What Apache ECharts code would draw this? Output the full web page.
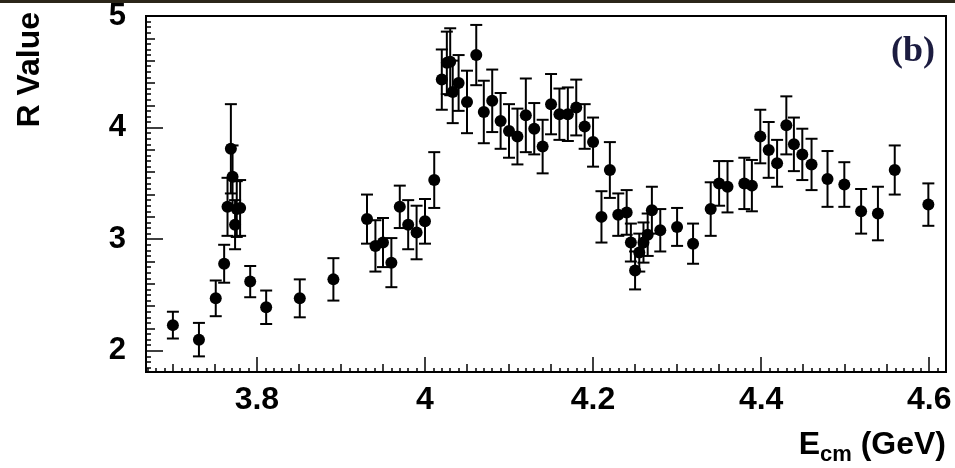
<!DOCTYPE html>
<html>
<head>
<meta charset="utf-8">
<script src="https://cdn.jsdelivr.net/npm/echarts@6/dist/echarts.min.js"></script>
<style>
  html, body { margin: 0; padding: 0; background: #fff; }
  #chart { width: 955px; height: 468px; }
</style>
</head>
<body>
<div id="chart"></div>
<script>
  // centre-of-mass energy (GeV)
  var energies = [
    3.700, 3.731, 3.751, 3.761, 3.765, 3.769, 3.771, 3.774, 3.776, 3.780,
    3.792, 3.811, 3.851, 3.891, 3.931, 3.941, 3.950, 3.960, 3.970, 3.980,
    3.990, 4.000, 4.011, 4.020, 4.026, 4.030, 4.033, 4.040, 4.050, 4.061,
    4.070, 4.080, 4.090, 4.100, 4.110, 4.120, 4.130, 4.140, 4.150, 4.160,
    4.170, 4.180, 4.190, 4.200, 4.210, 4.220, 4.230, 4.240, 4.245, 4.250,
    4.255, 4.260, 4.265, 4.270, 4.280, 4.300, 4.319, 4.340, 4.350, 4.360,
    4.380, 4.389, 4.399, 4.409, 4.419, 4.430, 4.439, 4.449, 4.460, 4.479,
    4.499, 4.519, 4.539, 4.559, 4.599
  ];
  // measured R value
  var rValues = [
    2.23, 2.10, 2.47, 2.78, 3.29, 3.81, 3.56, 3.13, 3.27, 3.28,
    2.62, 2.39, 2.47, 2.64, 3.18, 2.94, 2.97, 2.79, 3.29, 3.13,
    3.06, 3.16, 3.53, 4.43, 4.58, 4.59, 4.32, 4.40, 4.23, 4.65,
    4.14, 4.24, 4.06, 3.97, 3.92, 4.11, 3.99, 3.83, 4.21, 4.12,
    4.12, 4.18, 4.01, 3.87, 3.20, 3.62, 3.22, 3.24, 2.97, 2.72,
    2.88, 2.97, 3.04, 3.26, 3.08, 3.11, 2.96, 3.27, 3.50, 3.47,
    3.50, 3.48, 3.92, 3.80, 3.68, 4.02, 3.85, 3.76, 3.67, 3.54,
    3.49, 3.25, 3.23, 3.62, 3.31
  ];
  // symmetric error
  var rErrors = [
    0.12, 0.15, 0.16, 0.17, 0.26, 0.40, 0.28, 0.22, 0.25, 0.25,
    0.14, 0.15, 0.17, 0.19, 0.22, 0.23, 0.22, 0.22, 0.19, 0.22,
    0.24, 0.20, 0.25, 0.27, 0.28, 0.30, 0.28, 0.25, 0.28, 0.27,
    0.28, 0.28, 0.25, 0.24, 0.25, 0.33, 0.23, 0.24, 0.27, 0.23,
    0.24, 0.25, 0.20, 0.22, 0.23, 0.25, 0.19, 0.20, 0.17, 0.17,
    0.17, 0.18, 0.19, 0.21, 0.19, 0.17, 0.18, 0.24, 0.20, 0.23,
    0.23, 0.23, 0.24, 0.25, 0.21, 0.26, 0.24, 0.23, 0.23, 0.25,
    0.20, 0.20, 0.24, 0.22, 0.19
  ];

  var xLabels = [3.8, 4, 4.2, 4.4, 4.6];
  var yLabels = [2, 3, 4, 5];

  // tick positions between a and b (in units of 1/100)
  function steps(a, b, d) {
    var out = [];
    for (var k = a; k <= b; k += d) out.push(Math.round(k) / 100);
    return out;
  }
  var xMid = steps(370, 460, 5);
  var xMinor = steps(367, 462, 1);
  var yMid = steps(200, 500, 20);
  var yMinor = steps(185, 500, 5);

  var font = "'Liberation Sans', Arial, sans-serif";
  var points = energies.map(function (e, i) { return [e, rValues[i], rErrors[i]]; });

  var chartDom = document.getElementById('chart');
  var myChart = echarts.init(chartDom);

  function xAxisDef(ticks, len, labels) {
    return {
      type: 'value', position: 'bottom', min: 3.668, max: 4.62,
      axisLine: { show: labels, lineStyle: { color: '#000', width: 2 } },
      axisTick: { inside: true, length: len, customValues: ticks, lineStyle: { color: '#000', width: 1.5 } },
      axisLabel: labels ? { customValues: xLabels, margin: 12, color: '#000', fontSize: 32, fontWeight: 'bold', fontFamily: font } : { show: false },
      splitLine: { show: false }
    };
  }
  function yAxisDef(ticks, len, labels) {
    return {
      type: 'value', position: 'left', min: 1.81, max: 5,
      axisLine: { show: labels, lineStyle: { color: '#000', width: 2 } },
      axisTick: { inside: true, length: len, customValues: ticks, lineStyle: { color: '#000', width: 1.5 } },
      axisLabel: labels ? { customValues: yLabels, margin: 20, color: '#000', fontSize: 31, fontWeight: 'bold', fontFamily: font } : { show: false },
      splitLine: { show: false }
    };
  }

  var option = {
    animation: false,
    backgroundColor: '#fff',
    grid: { left: 146, right: 9, top: 16, bottom: 96, show: true, borderColor: '#000', borderWidth: 2 },
    xAxis: [xAxisDef(xLabels, 15, true), xAxisDef(xMid, 8, false), xAxisDef(xMinor, 4, false)],
    yAxis: [yAxisDef(yLabels, 17, true), yAxisDef(yMid, 9, false), yAxisDef(yMinor, 5, false)],
    graphic: [
      { type: 'rect', left: 0, top: 0, shape: { width: 955, height: 3 }, style: { fill: '#2b2619' } },
      { type: 'text', x: 30, y: 12, rotation: Math.PI / 2,
        style: { text: 'R Value', fill: '#000', font: "bold 32px " + font, align: 'right', verticalAlign: 'middle' } },
      { type: 'text', x: 946, y: 445,
        style: {
          text: '{a|E}{b|cm}{a| (GeV)}', align: 'right', verticalAlign: 'middle',
          rich: {
            a: { fontSize: 32, fontWeight: 'bold', fontFamily: font, fill: '#000', lineHeight: 42, verticalAlign: 'middle' },
            b: { fontSize: 22, fontWeight: 'bold', fontFamily: font, fill: '#000', lineHeight: 22, verticalAlign: 'bottom' }
          }
        } },
      { type: 'text', x: 935, y: 52,
        style: { text: '(b)', fill: '#1c1c40', font: "bold 36px 'Liberation Serif', 'Times New Roman', serif", align: 'right', verticalAlign: 'middle' } }
    ],
    series: [
      {
        type: 'custom',
        name: 'errors',
        data: points,
        renderItem: function (params, api) {
          var x = api.value(0), y = api.value(1), e = api.value(2);
          var hi = api.coord([x, y + e]);
          var lo = api.coord([x, y - e]);
          var hw = 6;
          var st = { stroke: '#000', lineWidth: 2 };
          return {
            type: 'group',
            children: [
              { type: 'line', shape: { x1: hi[0], y1: hi[1], x2: lo[0], y2: lo[1] }, style: st },
              { type: 'line', shape: { x1: hi[0] - hw, y1: hi[1], x2: hi[0] + hw, y2: hi[1] }, style: st },
              { type: 'line', shape: { x1: lo[0] - hw, y1: lo[1], x2: lo[0] + hw, y2: lo[1] }, style: st }
            ]
          };
        },
        z: 2
      },
      {
        type: 'scatter',
        name: 'R',
        data: points,
        symbol: 'circle',
        symbolSize: 12,
        itemStyle: { color: '#000', opacity: 1 },
        z: 3
      }
    ]
  };

  option && myChart.setOption(option);
</script>
</body>
</html>
